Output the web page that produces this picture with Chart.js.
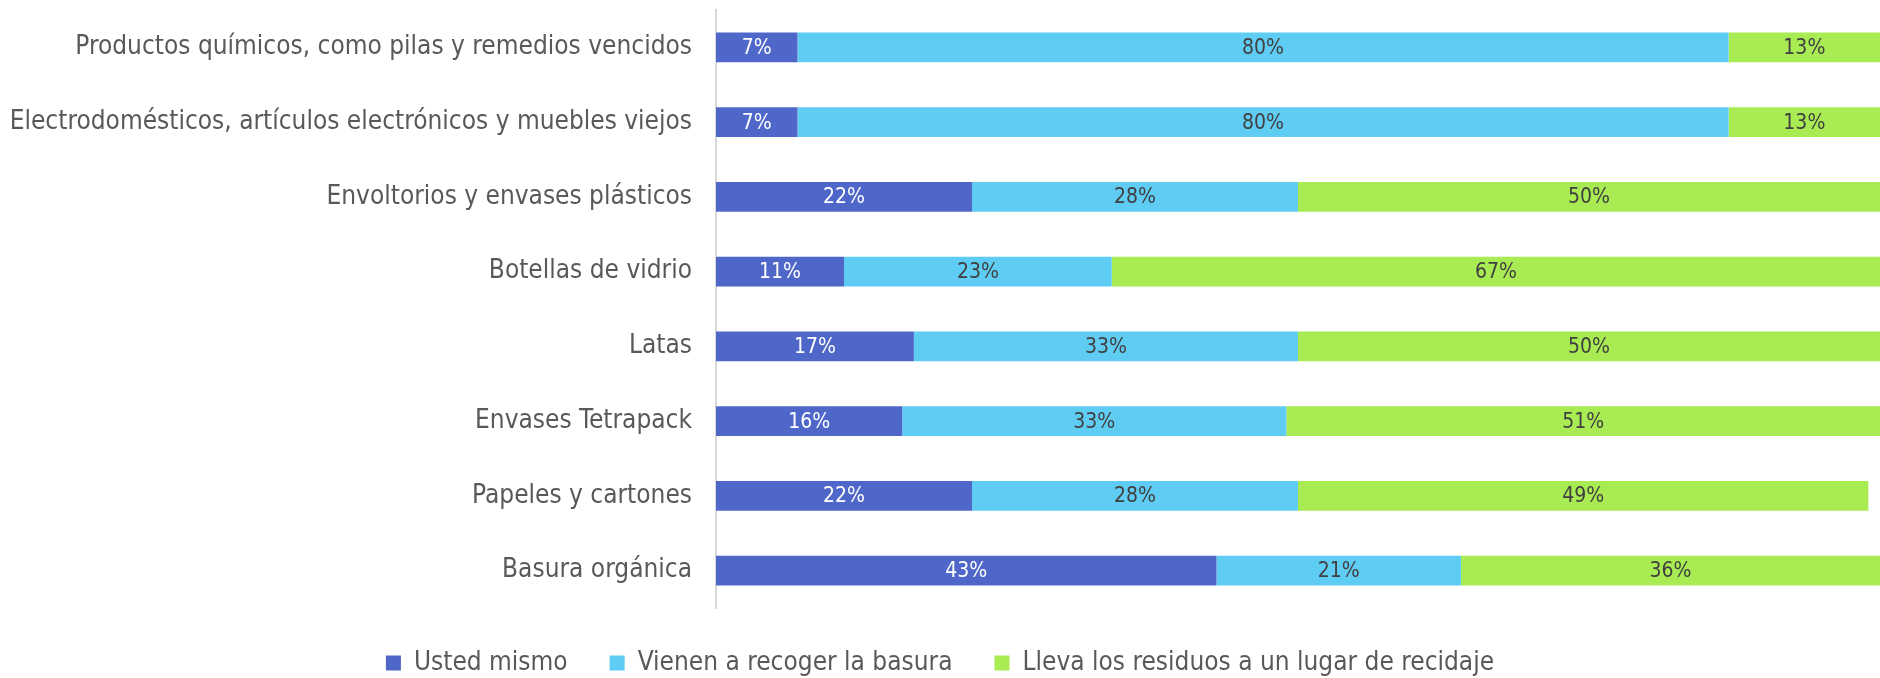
<!DOCTYPE html>
<html>
<head>
<meta charset="utf-8">
<script src="https://cdn.jsdelivr.net/npm/chart.js@4/dist/chart.umd.min.js"></script>
<style>
    html, body { margin: 0; padding: 0; background: #ffffff; }
    #wrap { width: 1880px; height: 678px; }
</style>
</head>
<body>
<div id="wrap"><canvas id="barChart" width="1880" height="678"></canvas></div>
<script>
// ================= DATA =================

const categories = [
    "Productos químicos, como pilas y remedios vencidos",
    "Electrodomésticos, artículos electrónicos y muebles viejos",
    "Envoltorios y envases plásticos",
    "Botellas de vidrio",
    "Latas",
    "Envases Tetrapack",
    "Papeles y cartones",
    "Basura orgánica"
];

const seriesNames = [
    "Usted mismo",
    "Vienen a recoger la basura",
    "Lleva los residuos a un lugar de recidaje"
];

const ustedMismo = [7, 7, 22, 11, 17, 16, 22, 43];
const vienenRecoger = [80, 80, 28, 23, 33, 33, 28, 21];
const llevaReciclaje = [13, 13, 50, 67, 50, 51, 49, 36];

const FONT = "'Liberation Sans Narrow', 'Arial Narrow', 'DejaVu Sans Condensed', sans-serif";

// percentage text in the middle of every segment
const segmentLabels = {
    id: "segmentLabels",
    afterDatasetsDraw(chart) {
        const ctx = chart.ctx;
        ctx.save();
        ctx.font = "21px " + FONT;
        ctx.textAlign = "center";
        ctx.textBaseline = "middle";
        chart.data.datasets.forEach(function (ds, i) {
            const meta = chart.getDatasetMeta(i);
            meta.data.forEach(function (bar, j) {
                const p = bar.getProps(["x", "y", "base"], true);
                const right = Math.min(p.x, chart.chartArea.right);
                ctx.fillStyle = i === 0 ? "#ffffff" : "#404040";
                ctx.fillText(ds.data[j] + "%", (p.base + right) / 2, p.y + 1);
            });
        });
        ctx.restore();
    }
};

// fixed height for the legend strip under the bars
const legendHeight = {
    id: "legendHeight",
    beforeInit(chart) {
        const fit = chart.legend.fit;
        chart.legend.fit = function () {
            fit.bind(chart.legend)();
            this.height = 70;
        };
    }
};

new Chart(document.getElementById("barChart"), {
    type: "bar",
    data: {
        labels: categories,
        datasets: [
            { label: seriesNames[0], data: ustedMismo, backgroundColor: "#4F67C9" },
            { label: seriesNames[1], data: vienenRecoger, backgroundColor: "#5FCCF3" },
            { label: seriesNames[2], data: llevaReciclaje, backgroundColor: "#A9EB52" }
        ]
    },
    options: {
        indexAxis: "y",
        responsive: false,
        animation: false,
        maintainAspectRatio: false,
        layout: { padding: { top: 10, right: 0, bottom: 0, left: 0 } },
        datasets: {
            bar: { categoryPercentage: 0.8, barPercentage: 0.5 }
        },
        scales: {
            x: {
                stacked: true,
                min: 0,
                max: 100,
                display: false
            },
            y: {
                stacked: true,
                grid: { display: false, drawTicks: false },
                border: { display: true, color: "#D9D9D9", width: 2 },
                ticks: {
                    color: "#595959",
                    padding: 24,
                    font: { family: FONT, size: 26 }
                },
                afterFit(scale) {
                    scale.width = 716;
                    scale.paddingTop = 0;
                    scale.paddingBottom = 0;
                }
            }
        },
        plugins: {
            tooltip: { enabled: false },
            legend: {
                position: "bottom",
                labels: {
                    color: "#595959",
                    boxWidth: 15,
                    boxHeight: 15,
                    padding: 42,
                    font: { family: FONT, size: 26 }
                }
            }
        }
    },
    plugins: [segmentLabels, legendHeight]
});
</script>
</body>
</html>
